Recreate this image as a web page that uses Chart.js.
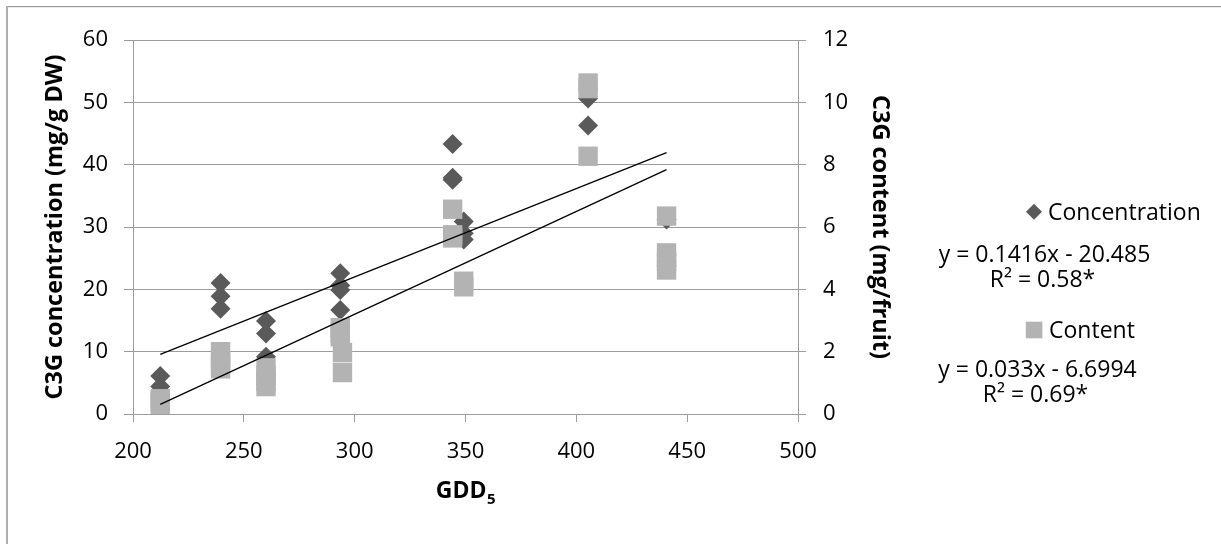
<!DOCTYPE html>
<html>
<head>
<meta charset="utf-8">
<title>C3G vs GDD5</title>
<script src="https://cdn.jsdelivr.net/npm/chart.js@4.4.1/dist/chart.umd.min.js"></script>
<style>
  html, body { margin: 0; padding: 0; background: #fff; }
  canvas { display: block; }
</style>
</head>
<body>
<canvas id="c3gChart" width="1221" height="544"></canvas>
<script>
// C3G concentration (mg/g DW, left axis) and C3G content (mg/fruit, right axis) vs GDD5.
const concGdd = [212.3, 212.3, 239.5, 239.5, 239.5, 260, 260, 260, 293.5, 293.5, 293.5, 293.5,
    344.2, 344.2, 344.2, 349.2, 349.2, 349.2, 405.3, 405.3, 440.7, 440.7, 440.7];
const concValues = [6.1, 4.4, 21.0, 18.9, 16.9, 14.9, 12.9, 9.2, 22.6, 20.6, 19.9, 16.7,
    43.3, 37.9, 37.6, 30.9, 29.0, 28.0, 50.6, 46.3, 31.2, 25.5, 23.8];

const contentGdd = [212.3, 212.3, 212.3, 239.5, 239.5, 239.5, 239.5, 260, 260, 260, 260,
    293.5, 293.5, 293.5, 294.5, 294.5, 344.2, 344.2, 344.2, 349.2, 349.2,
    405.3, 405.3, 405.3, 440.7, 440.7, 440.7, 440.7];
const contentValues = [0.49, 0.4, 0.31, 2.0, 1.75, 1.6, 1.45, 1.48, 1.25, 1.05, 0.88,
    2.77, 2.6, 2.48, 1.97, 1.33, 6.57, 5.75, 5.65, 4.26, 4.08,
    10.62, 10.44, 8.27, 6.35, 5.17, 4.9, 4.62];

// Linear fits: [concentration, content]
const trendSlope = [0.1416, 0.033];
const trendIntercept = [-20.485, -6.6994];
const seriesNames = ['Concentration', 'Content'];
const eqLabels = ['y = 0.1416x - 20.485', 'y = 0.033x - 6.6994'];
const r2Labels = ['R\u00B2 = 0.58*', 'R\u00B2 = 0.69*'];

const xTicks = [200, 250, 300, 350, 400, 450, 500];
const leftTicks = [0, 10, 20, 30, 40, 50, 60];
const rightTicks = [0, 2, 4, 6, 8, 10, 12];

const FONT = "'Open Sans', 'Liberation Sans', sans-serif";
const GRID = '#9c9c9c';
const DARK = '#5a5a5a';
const LIGHT = '#b3b3b3';

function points(xs, ys) {
    return xs.map((x, i) => ({ x, y: ys[i] }));
}

function trendLine(k, xs) {
    const lo = Math.min(...xs), hi = Math.max(...xs);
    return [lo, hi].map(x => ({ x, y: trendSlope[k] * x + trendIntercept[k] }));
}

// Legend, fit equations, GDD5 title (needs a subscript) and the frame.
const decor = {
    id: 'decor',
    afterDraw(chart) {
        const ctx = chart.ctx;
        const area = chart.chartArea;
        ctx.save();

        ctx.fillStyle = '#9a9a9a';
        ctx.fillRect(6, 6, 1215, 1.2);
        ctx.fillStyle = '#b0b0b0';
        ctx.fillRect(6, 6, 2, 538);

        ctx.fillStyle = '#000';
        ctx.textBaseline = 'alphabetic';
        const main = 'GDD';
        ctx.font = `bold 23px ${FONT}`;
        const wMain = ctx.measureText(main).width;
        ctx.font = `bold 15px ${FONT}`;
        const wSub = ctx.measureText('5').width;
        const gx = (area.left + area.right) / 2 - (wMain + wSub) / 2;
        ctx.font = `bold 23px ${FONT}`;
        ctx.textAlign = 'left';
        ctx.fillText(main, gx, 497.5);
        ctx.font = `bold 15px ${FONT}`;
        ctx.fillText('5', gx + wMain + 0.5, 503.5);

        // legend entries
        const lx = 1034;
        ctx.fillStyle = DARK;
        ctx.beginPath();
        ctx.moveTo(lx, 203.7);
        ctx.lineTo(lx + 8, 211.7);
        ctx.lineTo(lx, 219.7);
        ctx.lineTo(lx - 8, 211.7);
        ctx.closePath();
        ctx.fill();
        ctx.fillStyle = LIGHT;
        ctx.fillRect(lx - 8.2, 321.7, 16.6, 16.6);

        ctx.fillStyle = '#000';
        ctx.font = `23px ${FONT}`;
        ctx.textAlign = 'left';
        ctx.fillText(seriesNames[0], 1048, 220);
        ctx.fillText(seriesNames[1], 1049, 338.3);

        ctx.textAlign = 'center';
        ctx.fillText(eqLabels[0], 1044.5, 262.3);
        ctx.fillText(r2Labels[0], 1042.5, 286.5);
        ctx.fillText(eqLabels[1], 1037.5, 377.3);
        ctx.fillText(r2Labels[1], 1035.5, 402);
        ctx.restore();
    }
};

const tickFont = { family: FONT, size: 22 };
const titleFont = { family: FONT, size: 23.5, weight: 'bold' };

new Chart(document.getElementById('c3gChart').getContext('2d'), {
    type: 'scatter',
    data: {
        datasets: [
            {
                label: seriesNames[0], data: points(concGdd, concValues), yAxisID: 'y',
                pointStyle: 'rectRot', pointRadius: 10, backgroundColor: DARK, borderWidth: 0, order: 3
            },
            {
                label: seriesNames[1], data: points(contentGdd, contentValues), yAxisID: 'y2',
                pointStyle: 'rect', pointRadius: 13.7, backgroundColor: LIGHT, borderWidth: 0, order: 2
            },
            {
                type: 'line', label: 'fit1', data: trendLine(0, concGdd), yAxisID: 'y',
                borderColor: '#000', borderWidth: 1.3, pointRadius: 0, fill: false, order: 1
            },
            {
                type: 'line', label: 'fit2', data: trendLine(1, contentGdd), yAxisID: 'y2',
                borderColor: '#000', borderWidth: 1.3, pointRadius: 0, fill: false, order: 1
            }
        ]
    },
    options: {
        responsive: false,
        animation: false,
        devicePixelRatio: 1,
        layout: { padding: { left: 0, top: 40, right: 323, bottom: 0 }, autoPadding: false },
        plugins: { legend: { display: false }, tooltip: { enabled: false } },
        scales: {
            x: {
                type: 'linear', position: 'bottom', min: xTicks[0], max: xTicks[xTicks.length - 1],
                afterBuildTicks: s => { s.ticks = xTicks.map(v => ({ value: v })); },
                ticks: { color: '#000', font: tickFont, padding: 17, maxRotation: 0 },
                grid: { drawOnChartArea: false, drawTicks: true, tickLength: 8, color: GRID, lineWidth: 1 },
                border: { color: GRID, width: 1 },
                afterFit: s => { s.height = 130; }
            },
            y: {
                type: 'linear', position: 'left', min: 0, max: 60,
                afterBuildTicks: s => { s.ticks = leftTicks.map(v => ({ value: v })); },
                ticks: { color: '#000', font: tickFont, padding: 16 },
                grid: { color: GRID, lineWidth: 1, tickLength: 9 },
                border: { color: GRID, width: 1 },
                title: { display: true, text: 'C3G concentration (mg/g DW)', color: '#000', font: titleFont, padding: { top: 41, bottom: 0 } },
                afterFit: s => { s.width = 133; }
            },
            y2: {
                type: 'linear', position: 'right', min: 0, max: 12,
                afterBuildTicks: s => { s.ticks = rightTicks.map(v => ({ value: v })); },
                ticks: { color: '#000', font: tickFont, padding: 17 },
                grid: { drawOnChartArea: false, color: GRID, lineWidth: 1, tickLength: 8 },
                border: { color: GRID, width: 1 },
                title: { display: true, text: 'C3G content (mg/fruit)', color: '#000', font: titleFont, padding: { top: 4, bottom: 0 } },
                afterFit: s => { s.width = 100; }
            }
        }
    },
    plugins: [decor]
});
</script>
</body>
</html>
